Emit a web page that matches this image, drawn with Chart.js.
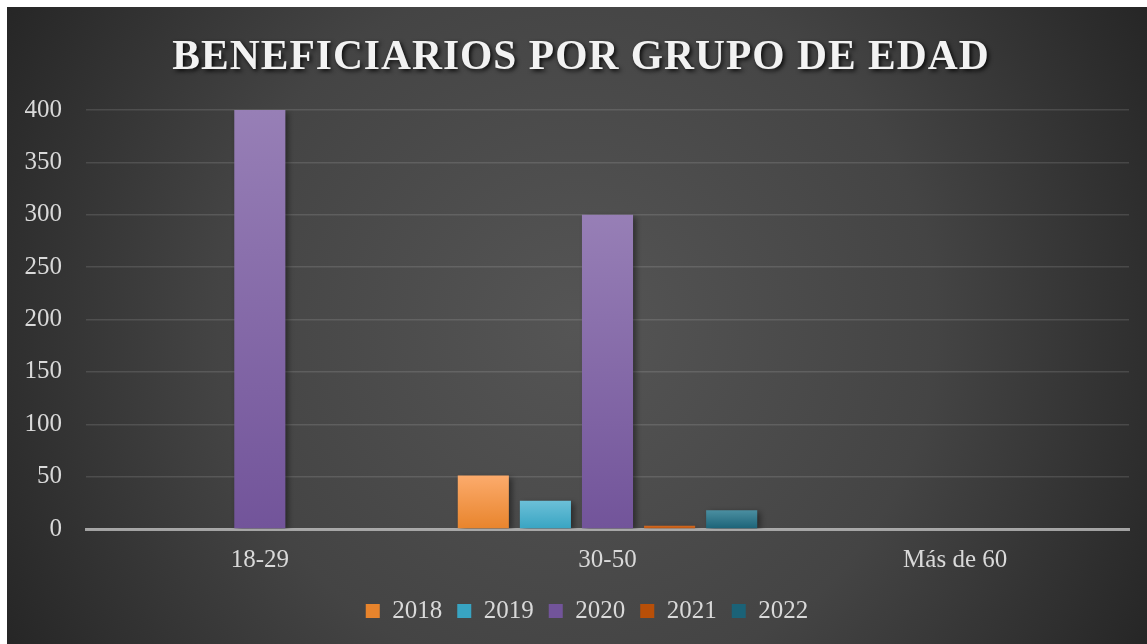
<!DOCTYPE html>
<html>
<head>
<meta charset="utf-8">
<script src="https://cdn.jsdelivr.net/npm/chart.js@4/dist/chart.umd.min.js"></script>
<style>
  html, body { margin: 0; padding: 0; background: #ffffff; width: 1147px; height: 644px; overflow: hidden; }
  #wrap { position: absolute; left: 7px; top: 7px; width: 1140px; height: 637px; }
</style>
</head>
<body>
<div id="wrap"><canvas id="c"></canvas></div>
<script>
const titleText = 'BENEFICIARIOS POR GRUPO DE EDAD';
const categories = ['18-29', '30-50', 'Más de 60'];
const years = ['2018', '2019', '2020', '2021', '2022'];
const v2018 = [0, 51, 0];
const v2019 = [0, 27, 0];
const v2020 = [400, 300, 0];
const v2021 = [0, 3, 0];
const v2022 = [0, 18, 0];
const yMin = 0, yMax = 400, yStep = 50;

const seriesValues = [v2018, v2019, v2020, v2021, v2022];
const palette = [
  { mid: '#f79646', top: '#fcab6c', bot: '#e8842c' },
  { mid: '#4bacc6', top: '#6cc0d8', bot: '#38a4c2' },
  { mid: '#8064a2', top: '#977fb6', bot: '#72549a' },
  { mid: '#c0560f', top: '#d36a22', bot: '#b84f08' },
  { mid: '#31859c', top: '#4b8fa1', bot: '#1b6277' }
];

function gradFill(p) {
  return function (ctx) {
    const chart = ctx.chart;
    if (ctx.type !== 'data' || !chart.chartArea) return p.mid;
    const y = chart.scales.y;
    const top = y.getPixelForValue(ctx.raw);
    const bot = y.getPixelForValue(0);
    if (bot - top < 1) return p.bot;
    const g = chart.ctx.createLinearGradient(0, top, 0, bot);
    g.addColorStop(0, p.top);
    g.addColorStop(1, p.bot);
    return g;
  };
}

const bgPlugin = {
  id: 'bg',
  beforeDraw(chart) {
    const { ctx, width, height } = chart;
    ctx.save();
    const cx = width * 0.5, cy = height * 0.5;
    const g = ctx.createRadialGradient(cx, cy, 0, cx, cy, Math.hypot(cx, cy));
    g.addColorStop(0, '#555555');
    g.addColorStop(0.55, '#444444');
    g.addColorStop(1, '#262626');
    ctx.fillStyle = g;
    ctx.fillRect(0, 0, width, height);
    ctx.restore();
  }
};

const titlePlugin = {
  id: 'ttl',
  afterDraw(chart) {
    const { ctx, width } = chart;
    ctx.save();
    ctx.font = 'bold 41.5px "Liberation Serif", "DejaVu Serif", serif';
    if ('letterSpacing' in ctx) ctx.letterSpacing = '1px';
    ctx.textAlign = 'center';
    ctx.textBaseline = 'alphabetic';
    ctx.shadowColor = 'rgba(0,0,0,0.85)';
    ctx.shadowBlur = 4;
    ctx.shadowOffsetX = 2;
    ctx.shadowOffsetY = 2;
    ctx.fillStyle = '#f2f2f2';
    ctx.fillText(titleText, width / 2 + 4, 62);
    ctx.restore();
  }
};

const shadowPlugin = {
  id: 'barShadow',
  beforeDatasetsDraw(chart) {
    const ctx = chart.ctx;
    ctx.save();
    ctx.shadowColor = 'rgba(0,0,0,0.45)';
    ctx.shadowBlur = 6;
    ctx.shadowOffsetX = 3;
    ctx.shadowOffsetY = 2;
  },
  afterDatasetsDraw(chart) {
    chart.ctx.restore();
  }
};

const legendShift = {
  id: 'legendShift',
  afterUpdate(chart) {
    const lg = chart.legend;
    if (lg) { lg.left += 19; lg.right += 19; }
  }
};

const datasets = years.map((yr, i) => ({
  label: yr,
  data: seriesValues[i],
  backgroundColor: gradFill(palette[i]),
  borderWidth: 0,
  categoryPercentage: 0.893,
  barPercentage: 0.823
}));

const fontFam = '"Liberation Serif", "DejaVu Serif", serif';

new Chart(document.getElementById('c'), {
  type: 'bar',
  data: { labels: categories, datasets },
  options: {
    responsive: true,
    maintainAspectRatio: false,
    animation: false,
    layout: { padding: { top: 103, right: 18, bottom: 10.5, left: 0 } },
    plugins: {
      title: { display: false },
      tooltip: { enabled: false },
      legend: {
        position: 'bottom',
        labels: {
          color: '#d9d9d9',
          font: { family: fontFam, size: 25 },
          boxWidth: 14,
          boxHeight: 14,
          padding: 15
        }
      }
    },
    scales: {
      x: {
        afterFit(scale) { scale.height = 54.5; },
        grid: { display: false, drawTicks: false },
        border: { display: true, color: 'rgba(190,190,190,0.8)', width: 3 },
        ticks: { color: '#d9d9d9', font: { family: fontFam, size: 25 }, padding: 16 }
      },
      y: {
        min: yMin,
        max: yMax,
        afterFit(scale) { scale.width = 79; },
        grid: { color: 'rgba(255,255,255,0.12)', lineWidth: 1.5, drawTicks: false },
        border: { display: false },
        ticks: { stepSize: yStep, color: '#d9d9d9', font: { family: fontFam, size: 25 }, padding: 24 }
      }
    }
  },
  plugins: [bgPlugin, shadowPlugin, titlePlugin, legendShift]
});
</script>
</body>
</html>
